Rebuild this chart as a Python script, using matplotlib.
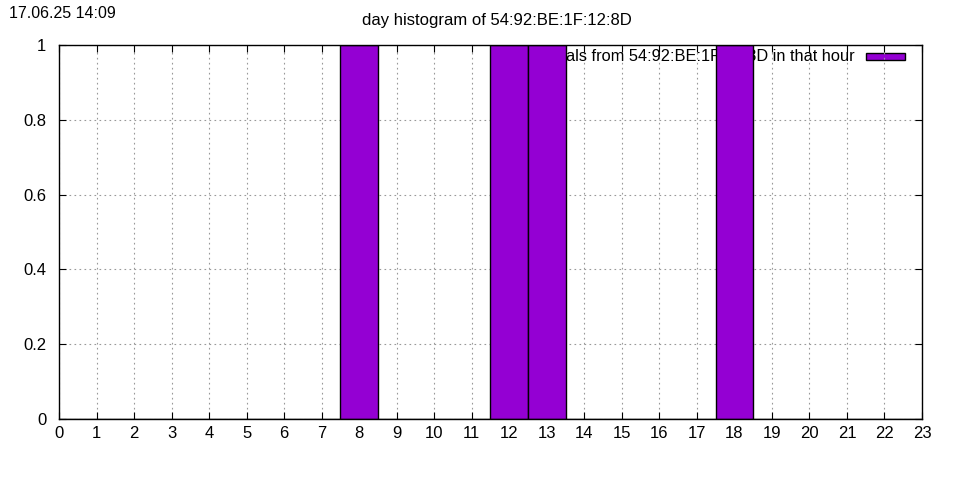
import numpy as np
import matplotlib
matplotlib.use('Agg')
import matplotlib.pyplot as plt
from matplotlib.patches import Rectangle

plt.rcParams['font.family'] = ['Liberation Sans', 'DejaVu Sans']

# hourly counts
hours = list(range(24))
counts = [0, 0, 0, 0, 0, 0, 0, 0, 1, 0, 0, 0, 1, 1, 0, 0, 0, 0, 1, 0, 0, 0, 0, 0]
timestamp = "17.06.25 14:09"
title = "day histogram of 54:92:BE:1F:12:8D"
legend_label = "signals from 54:92:BE:1F:12:8D in that hour"
bar_color = '#9400d3'

fig = plt.figure(figsize=(9.6, 4.8), dpi=100)
ax = fig.add_axes([59/960, 1 - 419/480, (922 - 59)/960, (419 - 45)/480])

# legend text sits under the bars, like gnuplot draws it
ax.text(855/960, 1 - 56/480, legend_label, transform=fig.transFigure,
        ha='right', va='center', fontsize=11.8, zorder=1)
fig.patches.append(Rectangle((866/960, 1 - 60/480), 39/960, 7/480,
                             transform=fig.transFigure, facecolor=bar_color,
                             edgecolor='black', linewidth=1))

ax.bar(hours, counts, width=1.0, color=bar_color, edgecolor='black',
       linewidth=1, zorder=3)
ax.set_zorder(2)
ax.patch.set_alpha(0)

ax.set_xlim(0, 23)
ax.set_ylim(0, 1)
ax.set_xticks(range(24))
ax.set_yticks([0, 0.2, 0.4, 0.6, 0.8, 1])
ax.set_yticklabels(['0', '0.2', '0.4', '0.6', '0.8', '1'])
ax.tick_params(direction='in', top=True, right=True, labelsize=12,
               length=5, width=0.8)
ax.tick_params(axis='y', pad=9)
ax.tick_params(axis='x', pad=5)
ax.grid(True, linestyle=(0, (1.5, 3)), color='#999999', linewidth=0.8)
ax.set_axisbelow(True)
for s in ax.spines.values():
    s.set_linewidth(1)
    s.set_zorder(4)

fig.text(9/960, 1 - 13/480, timestamp, ha='left', va='center', fontsize=11.5)
fig.text(497/960, 1 - 21/480, title, ha='center', va='center', fontsize=12)

fig.savefig('out.png', dpi=100)
